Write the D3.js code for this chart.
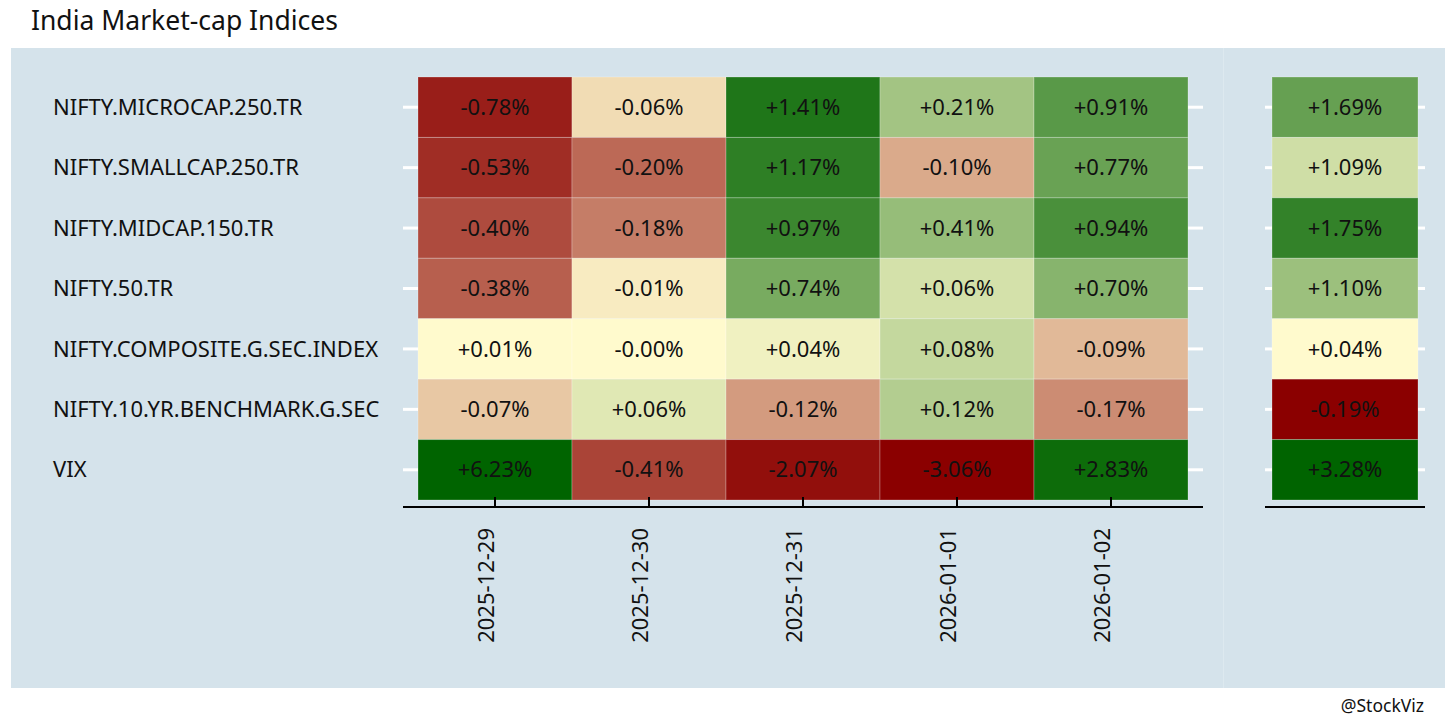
<!DOCTYPE html>
<html>
<head>
<meta charset="utf-8">
<script src="https://cdn.jsdelivr.net/npm/d3@7"></script>
<style>
  body { margin: 0; background: #fff; }
  text { font-family: "Noto Sans", "Open Sans", sans-serif; }
</style>
</head>
<body>
<div class="chart-area"></div>
<script>
// indices, top to bottom
const indices = [
  "NIFTY.MICROCAP.250.TR",
  "NIFTY.SMALLCAP.250.TR",
  "NIFTY.MIDCAP.150.TR",
  "NIFTY.50.TR",
  "NIFTY.COMPOSITE.G.SEC.INDEX",
  "NIFTY.10.YR.BENCHMARK.G.SEC",
  "VIX"
];
const dates = ["2025-12-29", "2025-12-30", "2025-12-31", "2026-01-01", "2026-01-02"];

// daily returns (%), one row per index
const dailyReturns = [
  [-0.78, -0.06,  1.41,  0.21,  0.91],
  [-0.53, -0.20,  1.17, -0.10,  0.77],
  [-0.40, -0.18,  0.97,  0.41,  0.94],
  [-0.38, -0.01,  0.74,  0.06,  0.70],
  [ 0.01, -0.00,  0.04,  0.08, -0.09],
  [-0.07,  0.06, -0.12,  0.12, -0.17],
  [ 6.23, -0.41, -2.07, -3.06,  2.83]
];
// signed rank of each move against the index's own history (-1..1), drives the fill
const dailyScore = [
  [-0.88, -0.12,  0.88,  0.36,  0.65],
  [-0.82, -0.58,  0.82, -0.32,  0.59],
  [-0.70, -0.50,  0.77,  0.41,  0.71],
  [-0.62, -0.06,  0.53,  0.17,  0.47],
  [ 0.00,  0.00,  0.06,  0.23, -0.26],
  [-0.20,  0.12, -0.38,  0.30, -0.44],
  [ 1.00, -0.73, -0.94, -1.00,  0.95]
];
// whole-week return (%) and its score
const weekReturns = [1.69, 1.09, 1.75, 1.10, 0.04, -0.19, 3.28];
const weekScore = [0.60, 0.19, 0.80, 0.39, 0.00, -1.00, 1.00];

let width = 1456, height = 728;
let fmt = d3.formatLocale({decimal: ".", thousands: ",", grouping: [3], currency: ["", ""], minus: "-"}).format("+.2f");
let pct = function(v) { return fmt(v) + "%"; };

let fill = d3.scaleLinear()
  .domain([-1, 0, 1])
  .range(["darkred", "lemonchiffon", "darkgreen"]);

let svg = d3.select("div.chart-area").append("svg")
  .attr("width", width)
  .attr("height", height);

// panel backgrounds
svg.append("rect").attr("x", 11).attr("y", 48).attr("width", 1212).attr("height", 640).attr("fill", "#d5e3eb");
svg.append("rect").attr("x", 1224).attr("y", 48).attr("width", 221).attr("height", 640).attr("fill", "#d5e3eb");
svg.append("line").attr("x1", 1223.5).attr("x2", 1223.5).attr("y1", 48).attr("y2", 688)
  .attr("stroke", "#dde9ef").attr("stroke-width", 1);

svg.append("text")
  .attr("x", 31).attr("y", 30)
  .style("font-size", "26.5px")
  .style("fill", "#111")
  .text("India Market-cap Indices");

svg.append("text")
  .attr("x", 1424).attr("y", 712)
  .style("font-size", "17.5px")
  .style("text-anchor", "end")
  .style("fill", "#111")
  .text("@StockViz");

let y = d3.scaleBand().domain(indices).range([77, 500]);
let x = d3.scaleBand().domain(dates).range([418, 1188]);
let xw = d3.scaleBand().domain(["week"]).range([1272, 1418]);

// left panel cells
let cells = [];
indices.forEach(function(name, i) {
  dates.forEach(function(d, j) {
    cells.push({name: name, date: d, value: dailyReturns[i][j], score: dailyScore[i][j]});
  });
});

let left = svg.append("g");
let node = left.selectAll(".cell")
  .data(cells)
  .enter().append("g")
  .attr("class", "cell")
  .attr("transform", function(d) { return "translate(" + x(d.date) + "," + y(d.name) + ")"; });

node.append("rect")
  .attr("width", x.bandwidth())
  .attr("height", y.bandwidth())
  .style("fill", function(d) { return fill(d.score); })
  .style("stroke", "rgba(255,255,255,0.25)")
  .style("stroke-width", 1);

node.append("text")
  .attr("x", x.bandwidth() / 2)
  .attr("y", y.bandwidth() / 2)
  .attr("dy", ".35em")
  .style("text-anchor", "middle")
  .style("font-size", "22px")
  .style("fill", "#111")
  .text(function(d) { return pct(d.value); });

// right panel (week) cells
let weekCells = indices.map(function(name, i) {
  return {name: name, value: weekReturns[i], score: weekScore[i]};
});
let wnode = svg.append("g").selectAll(".wcell")
  .data(weekCells)
  .enter().append("g")
  .attr("class", "wcell")
  .attr("transform", function(d) { return "translate(" + xw("week") + "," + y(d.name) + ")"; });

wnode.append("rect")
  .attr("width", xw.bandwidth())
  .attr("height", y.bandwidth())
  .style("fill", function(d) { return fill(d.score); })
  .style("stroke", "rgba(255,255,255,0.25)")
  .style("stroke-width", 1);

wnode.append("text")
  .attr("x", xw.bandwidth() / 2)
  .attr("y", y.bandwidth() / 2)
  .attr("dy", ".35em")
  .style("text-anchor", "middle")
  .style("font-size", "22px")
  .style("fill", "#111")
  .text(function(d) { return pct(d.value); });

// y axes: white ticks on both sides of each panel
function whiteTicks(g) {
  g.select(".domain").remove();
  g.selectAll(".tick line").attr("stroke", "#fff").attr("stroke-width", 3);
}

let yLeft = svg.append("g")
  .attr("transform", "translate(418,0)")
  .call(d3.axisLeft(y).tickSize(15))
  .call(whiteTicks);
yLeft.selectAll(".tick text")
  .attr("x", 53 - 418)
  .attr("dy", ".35em")
  .style("text-anchor", "start")
  .style("font-size", "22px")
  .style("font-family", "'Noto Sans', sans-serif")
  .style("fill", "#111");

svg.append("g")
  .attr("transform", "translate(1188,0)")
  .call(d3.axisRight(y).tickSize(15).tickFormat(""))
  .call(whiteTicks);
svg.append("g")
  .attr("transform", "translate(1272,0)")
  .call(d3.axisLeft(y).tickSize(7).tickFormat(""))
  .call(whiteTicks);
svg.append("g")
  .attr("transform", "translate(1418,0)")
  .call(d3.axisRight(y).tickSize(7).tickFormat(""))
  .call(whiteTicks);

// x axes
let xAxis = svg.append("g")
  .attr("transform", "translate(0,507)")
  .call(d3.axisBottom(x).tickSizeInner(-10).tickSizeOuter(0));
xAxis.select(".domain").remove();
xAxis.selectAll(".tick line").attr("stroke", "#000").attr("stroke-width", 2);
xAxis.append("line")
  .attr("x1", x.range()[0] - 15).attr("x2", x.range()[1] + 15)
  .attr("stroke", "#000").attr("stroke-width", 2);
xAxis.selectAll(".tick text")
  .attr("transform", "rotate(-90)")
  .attr("x", -21)
  .attr("y", 0)
  .attr("dy", "-0.05em")
  .style("text-anchor", "end")
  .style("font-size", "22px")
  .style("font-family", "'Noto Sans', sans-serif")
  .style("fill", "#111");

svg.append("line")
  .attr("x1", xw.range()[0] - 7).attr("x2", xw.range()[1] + 7)
  .attr("y1", 507).attr("y2", 507)
  .attr("stroke", "#000").attr("stroke-width", 2);
</script>
</body>
</html>
